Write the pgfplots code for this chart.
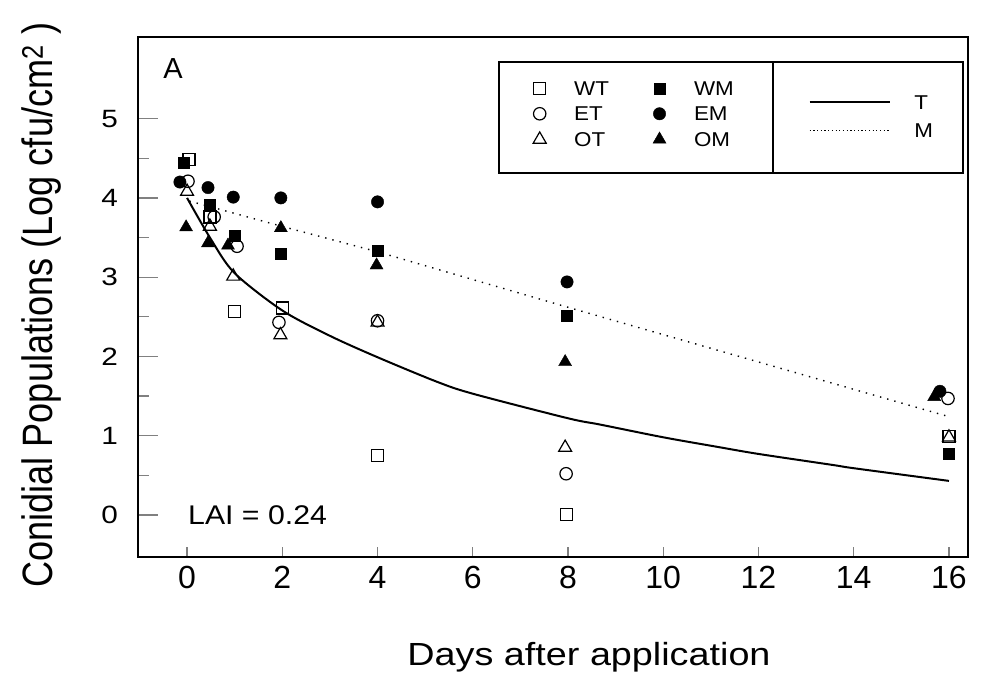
\documentclass[border=0pt]{standalone}
\usepackage{fontspec}
\setmainfont{Liberation Sans}
\newfontfamily\xlabfont{Liberation Sans}[FakeStretch=1.18]
\newfontfamily\ylabfont{Liberation Sans}[FakeStretch=0.85]
\newfontfamily\stfont{Liberation Sans}[FakeStretch=1.12]
\newfontfamily\ytfont{Liberation Sans}[FakeStretch=1.19]
\usepackage{pgfplots}
\pgfplotsset{compat=1.18}
\begin{document}
\begin{tikzpicture}
\begin{axis}[
  scale only axis, width=830pt, height=520pt,
  xmin=-1.03, xmax=16.4, ymin=-0.53, ymax=6.03,
  axis line style={line width=1.3pt},
  tick align=inside, tick pos=left,
  xtick={0,2,...,16}, ytick={0,1,...,5}, minor y tick num=1,
  xtick style={line width=1.2pt, /pgfplots/major tick length=10pt},
  ytick style={line width=1.2pt, /pgfplots/major tick length=20pt, /pgfplots/minor tick length=11pt},
  /pgf/number format/assume math mode=true,
  xticklabel style={font=\fontsize{32}{32}\selectfont, inner sep=0pt, yshift=-9pt},
  yticklabel style={font=\ytfont\fontsize{25}{25}\selectfont, inner sep=0pt, xshift=-20pt},
  xlabel={Days after application},
  xlabel style={font=\xlabfont\fontsize{32}{32}\selectfont, at={(axis description cs:0.5434,-0.2096)}, anchor=base, inner sep=0pt},
  ylabel={Conidial Populations (Log cfu/cm\textsuperscript{2} )},
  ylabel style={font=\ylabfont\fontsize{42.5}{42.5}\selectfont, at={(axis description cs:-0.1036,0.484)}, anchor=base, inner sep=0pt},
  clip mode=individual,
  legend columns=2, legend cell align=left,
  legend image code/.code={\draw[#1] plot coordinates {(0pt,0pt)};},
  legend style={at={(axis description cs:0.597,0.852)}, anchor=center, draw=none, fill=none,
    font=\stfont\fontsize{20}{20}\selectfont,
    nodes={inner sep=0pt, text height=14.3pt, text depth=0pt},
    row sep=11pt,
    /tikz/every odd column/.append style={column sep=28pt},
    /tikz/every even column/.append style={column sep=44pt}},
]
% fitted lines
\addplot[black, line width=2pt, smooth, forget plot] coordinates {
 (0,4.00) (0.5,3.48) (1,3.05) (2,2.58) (3,2.26) (4,1.99) (5.25,1.68) (6,1.53)
 (8,1.22) (8.68,1.14) (10,0.98) (11.13,0.86) (12,0.77) (13.57,0.63) (14,0.59) (16,0.43)};
\addplot[black, line width=1.4pt, dash pattern=on 1.4pt off 6pt, forget plot] coordinates {
 (0.05,3.96) (2,3.64) (4,3.32) (8,2.62) (12,1.93) (16,1.24)};
% WT
\addplot[only marks, black, mark=square, mark size=6pt, mark options={line width=1.2pt}] coordinates {
 (0.04,4.48) (0.48,3.76) (1,2.57) (2,2.61) (4,0.75) (7.96,0.01) (16,0.99)};
\addlegendentry{WT}
% WM
\addplot[only marks, black, mark=square*, mark size=5.5pt] coordinates {
 (-0.08,4.44) (0.48,3.91) (1.0,3.52) (1.97,3.30) (4,3.34) (7.98,2.51) (16,0.77)};
\addlegendentry{WM}
% ET
\addplot[only marks, black, mark=o, mark size=6.2pt, mark options={line width=1.2pt}] coordinates {
 (0.02,4.21) (0.57,3.76) (1.05,3.39) (1.93,2.43) (4,2.45) (7.96,0.52) (15.98,1.47)};
\addlegendentry{ET}
% EM
\addplot[only marks, black, mark=*, mark size=6.2pt] coordinates {
 (-0.15,4.20) (0.44,4.13) (0.97,4.01) (1.97,4.00) (4,3.95) (7.98,2.94) (15.81,1.56)};
\addlegendentry{EM}
% OT
\addplot[only marks, black, mark=triangle, mark size=7.5pt, mark options={line width=1.2pt}] coordinates {
 (0,4.08) (0.48,3.64) (0.97,3.01) (1.96,2.27) (4,2.43) (7.94,0.85) (16,0.98)};
\addlegendentry{OT}
% OM
\addplot[only marks, black, mark=triangle*, mark size=7.5pt] coordinates {
 (-0.02,3.63) (0.44,3.43) (0.86,3.40) (1.97,3.62) (3.98,3.15) (7.94,1.93) (15.69,1.49)};
\addlegendentry{OM}
% annotations
\node[anchor=base west, inner sep=0pt, font=\fontsize{29}{29}\selectfont] at (axis cs:-0.504,5.505) {A};
\node[anchor=base west, inner sep=0pt, font=\stfont\fontsize{27}{27}\selectfont] at (axis cs:0.02,-0.126) {LAI = 0.24};
% legend frames
\draw[line width=1.2pt] (axis description cs:0.4349,0.7385) rectangle (axis description cs:0.9940,0.9519);
\draw[line width=1.2pt] (axis description cs:0.7651,0.7385) -- (axis description cs:0.7651,0.9519);
% bounding box of the whole figure
\path (axis description cs:-0.16627,-0.22308) rectangle (axis description cs:1.02651,1.07115);
\end{axis}
\begin{axis}[
  scale only axis, width=830pt, height=520pt,
  xmin=-1.03, xmax=16.4, ymin=-0.53, ymax=6.03,
  hide axis,
  legend cell align=left,
  legend image code/.code={\draw[#1] (0pt,0pt) -- (80pt,0pt);},
  legend style={at={(axis description cs:0.8831,0.848)}, anchor=center, draw=none, fill=none,
    font=\stfont\fontsize{20}{20}\selectfont,
    nodes={inner sep=0pt, text height=14.3pt, text depth=0pt},
    row sep=14pt,
    /tikz/every odd column/.append style={column sep=24pt}},
]
\addlegendimage{black, line width=1.5pt}
\addlegendentry{T}
\addlegendimage{black, line width=1.2pt, dash pattern=on 1.2pt off 2.5pt}
\addlegendentry{M}
\end{axis}
\end{tikzpicture}
\end{document}
